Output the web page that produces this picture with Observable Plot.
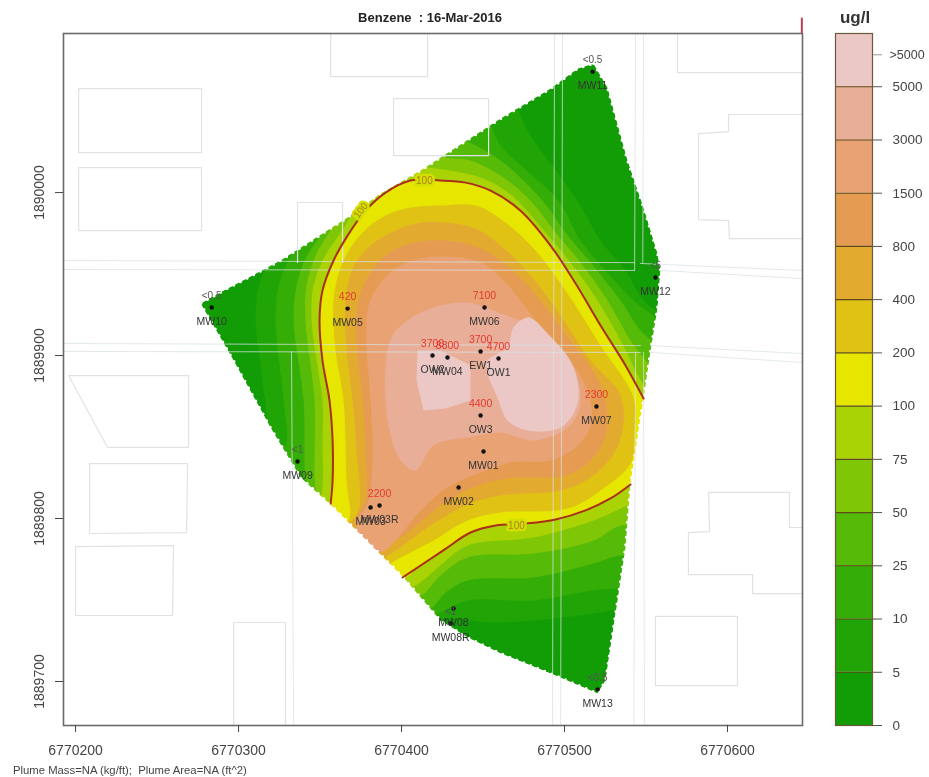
<!DOCTYPE html>
<html><head><meta charset="utf-8">
<script src="https://cdn.jsdelivr.net/npm/d3@7"></script>
<script src="https://cdn.jsdelivr.net/npm/@observablehq/plot@0.6"></script>
<style>
html,body{margin:0;padding:0;background:#fff}
#wrap{position:relative;width:929px;height:777px;overflow:hidden;font-family:"Liberation Sans",Arial,sans-serif;filter:blur(.4px)}
#wrap svg{position:absolute;top:0;background:transparent}
.t{position:absolute;white-space:pre;color:#222}
</style></head><body><div id="wrap"></div>
<script>
const eastBase = 6770000, northBase = 1889000;
const titleText = "Benzene  : 16-Mar-2016";
const footerText = "Plume Mass=NA (kg/ft);  Plume Area=NA (ft^2)";
const unitText = "ug/l";
const xTicks = [6770200,6770300,6770400,6770500,6770600];
const yTicks = [1889700,1889800,1889900,1890000];
const legendLabels = ["0","5","10","25","50","75","100","200","400","800","1500","3000","5000"];
const bandColors = ["#129c06","#20a406","#34ad06","#55ba08","#7ec606","#a9d305","#e6e600","#e0c214","#e2ab30","#e59c52","#e8a274","#e9ae98","#ebc8c6"];

const hull = [[517.8,1079.2],[526.4,1064.4],[538.7,1019.6],[548.5,990.8],[557.1,962.6],[558.9,952.2],[557.1,929.5],[552.8,903.1],[548.5,873.6],[546.6,862],[540.5,821.5],[537.4,782.2],[531.3,741.7],[525.2,700.6],[520.3,692.7],[491.4,704.9],[460.8,717.2],[440.5,727],[423.9,737.4],[401.2,763.8],[358.3,806.8],[338.1,825.2],[319.6,855.8],[296.9,896.9],[276.7,931.9],[290.8,939.9],[325.8,958.3],[366.9,984.7],[387.1,999.4],[411.7,1013.5],[460.8,1045.4],[491.4,1063.8],[508,1076.1]];
const maskFrame = [[517.8,1100],[185,1100],[185,665],[655,665],[655,1100],[517.8,1100]];

const level5 = [[466.9,1056.4],[479.2,1035],[508,995],[522.1,970.6],[537.4,952.2],[548.5,933.7],[562,921.5],[571.2,841.7],[552.8,749.7],[534.4,744.8],[517.8,741.7],[481,737.4],[454.6,736.2],[427,738.7],[417.8,734.4],[338,811],[310.4,847.9],[316.6,860.1],[314.7,884.7],[310.4,921.5],[312.3,942.9],[316.6,953.4],[325.8,970.6],[399.4,1031.9],[448.5,1062.6]];
const level10 = [[448.5,1050.3],[460.8,1028.8],[496.3,995],[509.8,970.6],[525.2,952.2],[542.3,933.7],[558.9,918.4],[571.2,841.7],[552.8,755.8],[534.4,757],[517.8,755.8],[481,749.7],[440.5,749.7],[423.9,742.3],[414.7,737.4],[338,817.2],[319.6,838.7],[328.8,844.8],[327.6,872.4],[322.7,921.5],[324.6,942.9],[331.9,961.4],[344.2,979.8],[399.4,1041.1]];
const level25 = [[423.9,1038],[439.3,1031.9],[460.8,1019.6],[486.5,995],[500.6,975.5],[516,957.1],[534.4,933.7],[546.6,915.3],[562,900],[571.2,841.7],[552.8,774.2],[534.4,777.3],[517.8,772.4],[481,763.8],[440.5,762],[427,754.6],[417.8,744.8],[408.6,746.6],[344.2,811],[341.1,823.3],[339.9,872.4],[333.8,921.5],[335.6,942.9],[341.1,959.5],[350.3,973.6],[362.6,992]];
const level50 = [[411.7,1038],[423.9,1022.7],[442.3,1019.6],[460.8,1010.4],[479.2,995],[494.5,975.5],[509.8,957.1],[526.4,933.7],[540.5,909.2],[555.8,887.7],[571.2,841.7],[552.8,795.7],[534.4,795.7],[517.8,786.5],[481,778.5],[440.5,776.1],[423.9,765],[411.7,752.8],[402.5,755.8],[350.3,808],[347.3,817.2],[346.6,872.4],[341.1,921.5],[341.7,942.9],[347.3,961.4],[359.5,981.6],[371.8,1001.2],[399.4,1025.8]];
const level75 = [[393.3,1025.8],[411.7,1016.6],[430.1,1013.5],[448.5,1009.2],[460.8,1003.1],[471.2,995],[488.4,975.5],[503.7,957.1],[520.3,933.7],[534.4,909.2],[550.9,878.5],[562,869.3],[565,817.2],[541.7,809.2],[517.8,798.8],[481,788.3],[440.5,783.4],[423.9,771.2],[408.6,758.9],[396.3,755.8],[344.2,804.9],[350.3,812.9],[351.5,847.9],[351.5,872.4],[347.9,896.9],[344.8,921.5],[346,942.9],[352.2,959.5],[361.4,973.6],[368.7,984.7],[381,1004.3]];
const contourUpper = [[548.5,873.6],[537.4,893.9],[522.1,918.4],[506.8,944.2],[491.4,967.5],[473,988.9],[454.6,1001.2],[439.3,1006.1],[423.9,1007.4],[405.5,1007.4],[390.2,1000],[377.9,988.9],[366.9,973.6],[358.3,958.3],[351.5,939.9],[349.7,921.5],[351.5,896.9],[355.8,872.4],[357.7,847.9],[357.7,823.3],[356.5,809.2]];
const contourLower = [[540.5,820.9],[528.2,812.3],[512.9,805],[494.5,799.4],[476.1,796.9],[457.7,795.7],[442.3,791.4],[427,781.4],[411.7,771.2],[400.6,763.8]];
const level100 = [...contourUpper,[374.9,783.4],...[...contourLower].reverse(),[562,847.9]];
const level200 = [[542.3,874.2],[543,854],[540.5,833.7],[522.1,817.2],[501.9,806.1],[460.8,803.7],[440.5,798.8],[419.6,786.5],[393.3,772.4],[384.1,765],[359.5,795.7],[367.5,798.8],[366.3,823.3],[364.4,872.4],[359.5,903.1],[358.3,933.7],[363.8,957.1],[376.1,975.5],[390.2,985.9],[405.5,990.8],[423.9,992],[445.4,992],[463.8,981.6],[482.2,964.4],[500.6,939.9],[522.1,906.1]];
const level400 = [[534.4,875.5],[535.6,854],[529.5,838.6],[516,825.2],[497.6,817.2],[460.8,814.1],[439.3,808],[417.8,795.7],[396.3,780.4],[384.1,774.2],[365.7,792.6],[373.6,804.9],[372.4,841.7],[370,872.4],[365.7,909.2],[365.7,933.7],[370,953.4],[381,967.5],[396.3,976.7],[411.7,981.6],[427,981.6],[445.4,977.9],[460.8,967.5],[479.2,949.1],[497.6,924.6],[516,896.9]];
const level800 = [[525.2,872.4],[525.2,850.9],[516,835.6],[500.6,826.4],[463.8,824.5],[442.3,818.4],[423.9,808],[405.5,792.6],[390.2,783.4],[377.9,781.6],[371.8,798.8],[377.9,811],[377.9,841.7],[376.1,872.4],[372.4,909.2],[373.6,933.7],[379.8,949.1],[390.2,961.4],[405.5,968.7],[427,970.6],[448.5,965.7],[466.9,953.4],[485.3,933.7],[503.7,909.2],[519,887.7]];
const level1500 = [[516,872.4],[516,857],[506.8,843.6],[491.4,835.6],[466.9,834.4],[448.5,828.2],[430.1,820.2],[411.7,804.9],[396.3,786.5],[385.9,779.2],[372.4,795.7],[379.8,811],[382.2,841.7],[381,872.4],[378.5,909.2],[379.8,930.7],[385.9,942.9],[396.3,953.4],[411.7,959.5],[427,960.7],[448.5,957.1],[463.8,944.8],[482.2,921.5],[497.6,903.1],[509.8,887.7]];
const level3000 = [[403.7,921.5],[419.6,929.5],[440.5,932.5],[460.8,925.8],[485.3,915.3],[503.7,896.9],[509.8,870.6],[501.9,855.8],[481,847.9],[460.8,852.8],[444.2,850.3],[419.6,844.8],[408.6,829.5],[399.4,835.6],[392,857],[390.2,893.9],[394.5,912.3]];
const level5000a = [[409.8,903.1],[423.9,903.1],[442.3,893.9],[442.3,872.4],[427,867.5],[413.5,866.3],[409.2,884.7]];
const level5000b = [[468.7,917.2],[477.9,923.3],[489.6,913.5],[505.5,892.6],[508,870.6],[497.6,855.8],[477.3,854],[465,860.1],[458.9,874.2],[452.8,889],[452.8,896.9],[465,904.9]];

const buildings = [
 [[201.9,1063.8],[277.3,1063.8],[277.3,1024.5],[201.9,1024.5],[201.9,1063.8]],
 [[201.9,1015.3],[277.3,1015.3],[277.3,976.7],[201.9,976.7],[201.9,1015.3]],
 [[356.5,1097.6],[356.5,1071.2],[416,1071.2],[416,1097.6]],
 [[395.1,1057.7],[453.4,1057.7],[453.4,1022.7],[395.1,1022.7],[395.1,1057.7]],
 [[336.2,957.1],[336.2,993.9],[363.8,993.9],[363.8,957.1]],
 [[569.3,1097.6],[569.3,1073.6],[646,1073.6]],
 [[646,1047.9],[600.6,1047.9],[600.6,1037.4],[582.2,1036.2],[582.2,983.4],[600.6,982.8],[601.2,971.8],[646,971.8]],
 [[195.7,887.7],[269.3,887.7],[269.3,843.6],[219.6,843.6],[195.7,887.7]],
 [[208.6,833.7],[268.7,833.7],[268.1,791.4],[208.6,790.8],[208.6,833.7]],
 [[200,782.8],[260.1,783.4],[259.5,740.5],[200,740.5],[200,782.8]],
 [[297,673],[297,736.2],[328.8,736.2],[328.8,673]],
 [[646,794.5],[638,794.5],[638,816],[588.4,816],[589,792],[576,791.4],[576,765.6],[615.4,765.6],[615.4,753.9],[646,753.9]],
 [[555.8,739.9],[606.1,739.9],[606.1,697.5],[555.8,697.5],[555.8,739.9]]
];
const roads = [
 [[192.7,958.3],[543,957]],[[192.7,952.8],[543,952.2]],
 [[192.7,907.4],[546.6,906.1]],[[192.7,902.5],[546.6,901.9]],
 [[552.8,906.1],[646,901.2]],[[552.8,901.9],[646,895.7]],
 [[546.6,956.5],[646,952.2]],[[559,952.2],[646,947.2]],
 [[493.9,1097.6],[492.6,673]],[[498.8,1097.6],[497.6,673]],
 [[543.6,1097.6],[543,952.2]],[[548.5,1097.6],[548,957]],
 [[543.6,902],[542.5,673]],[[548.5,902],[549,673]],
 [[332.5,902.5],[333.8,673]]
];

const wellNames = ["MW11","MW12","MW10","MW05","MW06","OW2","MW04","EW1","OW1","OW3","MW07","MW01","MW02","MW03","MW03R","MW09","MW08","MW08R","MW13"];
const wellEast = [517.2,555.8,283.5,366.9,450.9,419,428.2,448.5,459.5,448.5,519.6,450.3,435,381,386.5,336.2,431.9,430.1,520.3];
const wellNorth = [1074.2,947.9,929.5,928.8,929.5,900,898.8,902.5,898.2,863.2,868.7,841.1,819,806.8,808,835,744.8,735.6,695.1];
const wellValues = ["<0.5","<5","<0.5","420","7100","3700","8800","3700","4700","4400","2300","","","","2200","<1","","<1","<0.5"];

const contourLabels = ["100","100","100"];
const contourLabelEast = [414,375,470.5];
const contourLabelNorth = [1007.4,989,795.5];
const contourLabelRotate = [0,-52,0];

const P = a => a.map(([x,y]) => ({x:eastBase+x, y:northBase+y}));
const wells = wellNames.map((name,i)=>({name, x:eastBase+wellEast[i], y:northBase+wellNorth[i], value:wellValues[i]}));
const levels = [level5,level10,level25,level50,level75,level100,level200,level400,level800,level1500,level3000];
const font = '"Liberation Sans",Arial,sans-serif';

const main = Plot.plot({
  width:929, height:777, marginLeft:63, marginRight:127, marginTop:33, marginBottom:52,
  style:{fontFamily:font, background:"transparent"},
  x:{domain:[eastBase+192.6,eastBase+646]},
  y:{domain:[northBase+673,northBase+1097.6]},
  marks:[
    Plot.line(P(hull),{x:"x",y:"y",fill:bandColors[0],stroke:"none",curve:"linear-closed"}),
    ...levels.map((l,i)=>Plot.line(P(l),{x:"x",y:"y",fill:bandColors[i+1],stroke:"none",curve:"catmull-rom-closed"})),
    Plot.line(P(level5000a),{x:"x",y:"y",fill:bandColors[12],stroke:"none",curve:"linear-closed"}),
    Plot.line(P(level5000b),{x:"x",y:"y",fill:bandColors[12],stroke:"none",curve:"catmull-rom-closed"}),
    Plot.line(P([...maskFrame,...hull,hull[0]]),{x:"x",y:"y",fill:"white",stroke:"none",curve:"linear-closed",clip:true}),
    Plot.line(P(hull),{x:"x",y:"y",stroke:"white",strokeWidth:3,strokeDasharray:"0 7.5",strokeLinecap:"round",curve:"linear-closed"}),
    ...roads.map(r=>Plot.line(P(r),{x:"x",y:"y",stroke:"#d8e2e6",strokeWidth:1,strokeOpacity:.75,clip:true})),
    ...buildings.map(r=>Plot.line(P(r),{x:"x",y:"y",stroke:"#dfe3e6",strokeWidth:1.2,clip:true})),
    Plot.line(P(contourUpper),{x:"x",y:"y",stroke:"#a8301c",strokeWidth:2,curve:"catmull-rom"}),
    Plot.line(P(contourLower),{x:"x",y:"y",stroke:"#a8301c",strokeWidth:2,curve:"catmull-rom"}),
    ...contourLabels.map((t,i)=>Plot.text([t],{x:[eastBase+contourLabelEast[i]],y:[northBase+contourLabelNorth[i]],text:d=>d,rotate:contourLabelRotate[i],fontSize:10,fill:"#b08020",stroke:"#d2df00",strokeWidth:5})),
    Plot.dot(wells,{x:"x",y:"y",r:2.2,fill:"#111",stroke:"none"}),
    Plot.text(wells,{x:"x",y:"y",text:"name",dy:14,fontSize:10.5,fill:"#333"}),
    Plot.text(wells.filter(d=>d.value && d.value[0]!=="<"),{x:"x",y:"y",text:"value",dy:-12,fontSize:10.5,fill:"#e23a30"}),
    Plot.text(wells.filter(d=>d.value && d.value[0]==="<"),{x:"x",y:"y",text:"value",dy:-12,fontSize:10,fill:"#555"}),
    Plot.frame({stroke:"#6a6a6a",strokeWidth:1.6}),
    Plot.ruleX([eastBase+645.6],{y1:northBase+1097.6,y2:northBase+1107,stroke:"#c04050",strokeWidth:2}),
    Plot.axisX({ticks:xTicks,tickFormat:d=>String(d),tickSize:7,tickPadding:13,fontSize:14,stroke:"#444",color:"#444",label:null}),
    Plot.axisY({ticks:yTicks,tickFormat:d=>String(d),tickSize:8,tickPadding:12,tickRotate:-90,fontSize:14,stroke:"#444",color:"#444",label:null})
  ]
});
main.style.left="0";

const bandRows = bandColors.map((c,i)=>({i,c}));
const legend = Plot.plot({
  width:114, height:777, marginLeft:20, marginRight:57, marginTop:33, marginBottom:52,
  style:{fontFamily:font, background:"transparent"},
  x:{domain:[0,1],axis:null},
  y:{domain:[0,13]},
  marks:[
    Plot.rect(bandRows,{x1:0,x2:1,y1:"i",y2:d=>d.i+1,fill:"c",stroke:"none"}),
    Plot.ruleY(d3.range(1,13),{x1:0,x2:1,stroke:"#5e4a1a",strokeWidth:1.1}),
    Plot.frame({stroke:"#6a5a3a",strokeWidth:1.2}),
    Plot.axisY(d3.range(0,13),{anchor:"right",tickSize:9,tickPadding:11,tickFormat:i=>legendLabels[i],fontSize:13.5,stroke:"#555",color:"#444",label:null}),
    Plot.axisY([12.6],{anchor:"right",tickSize:9,tickPadding:8,tickFormat:()=>">5000",fontSize:12.5,stroke:"#999",color:"#444",label:null})
  ]
});
legend.style.left="815px";

const wrap=document.getElementById("wrap");
wrap.append(main,legend);
function addText(text,css){const d=document.createElement("div");d.className="t";d.textContent=text;d.style.cssText+=css;wrap.append(d);}
addText(titleText,"left:355px;top:10px;width:150px;text-align:center;font-weight:bold;font-size:13px;line-height:16px");
addText(unitText,"left:825px;top:8px;width:60px;text-align:center;font-weight:bold;font-size:17px;line-height:20px;color:#333");
addText(footerText,"left:13px;top:763px;font-size:11.3px;line-height:14px;color:#444");
</script></body></html>
